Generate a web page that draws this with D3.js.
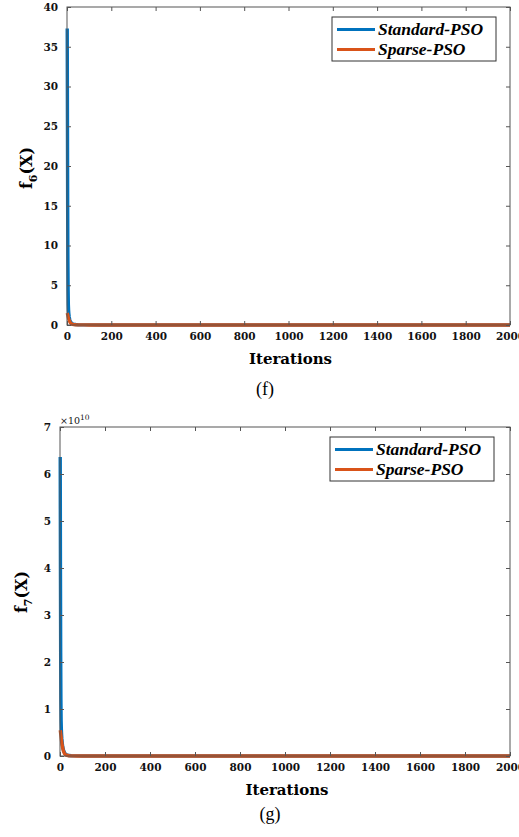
<!DOCTYPE html>
<html>
<head>
<meta charset="utf-8">
<script src="https://cdn.jsdelivr.net/npm/d3@7"></script>
<style>
  body { margin: 0; background: #fff; }
  svg { display: block; }
</style>
</head>
<body>
<div id="vis"></div>
<script>
// iterations at which the convergence curves are sampled
var iters = [1,2,3,4,5,6,7,8,10,12,15,20,25,30,40,50,75,100,150,200,300,500,750,1000,1500,2000];

// panel (f)
var f6Standard = [37.3,26,15,8,4.5,2.6,1.9,1.5,1.0,0.7,0.45,0.25,0.15,0.1,0.06,0.04,0.02,0.012,0.008,0.005,0.003,0.002,0.0015,0.001,0.001,0.001];
var f6Sparse   = [1.5,1.4,1.3,1.2,1.05,0.95,0.85,0.75,0.6,0.45,0.3,0.15,0.08,0.05,0.03,0.02,0.01,0.006,0.004,0.003,0.002,0.001,0.001,0.0005,0.0005,0.0005];

// panel (g), values in units of 1e10
var f7Standard = [6.36,4.0,2.2,1.2,0.75,0.56,0.46,0.38,0.28,0.2,0.13,0.07,0.04,0.025,0.01,0.005,0.002,0.001,0.001,0.001,0.001,0.001,0.001,0.001,0.001,0.001];
var f7Sparse   = [0.55,0.52,0.48,0.44,0.4,0.36,0.32,0.28,0.22,0.17,0.11,0.05,0.025,0.015,0.006,0.003,0.001,0.001,0.001,0.001,0.001,0.001,0.001,0.001,0.001,0.001];

var xTicks = [0,200,400,600,800,1000,1200,1400,1600,1800,2000];
var f6Ticks = [0,5,10,15,20,25,30,35,40];
var f7Ticks = [0,1,2,3,4,5,6,7];
var seriesNames = ["Standard-PSO", "Sparse-PSO"];
var colors = ["#0072bd", "#d95319"];

var W = 519, H = 837;
var svg = d3.select("#vis").append("svg").attr("width", W).attr("height", H);

var tickFont = "'DejaVu Serif', serif";
var fmt = d3.format("d");

function drawPanel(cfg) {
  var g = svg.append("g");
  var x = d3.scaleLinear().domain([0, 2000]).range([cfg.left, cfg.right]);
  var y = d3.scaleLinear().domain([0, cfg.yMax]).range([cfg.bottom, cfg.top]);

  var line = d3.line().x(function(d) { return x(d[0]); }).y(function(d) { return y(d[1]); });

  // curves, standard first so sparse sits on top
  [cfg.standard, cfg.sparse].forEach(function(vals, k) {
    g.append("path")
      .datum(iters.map(function(it, i) { return [it, vals[i]]; }))
      .attr("d", line)
      .attr("fill", "none")
      .attr("stroke", colors[k])
      .attr("stroke-width", 3.4)
      .attr("stroke-linejoin", "round");
  });

  var styleAxis = function(sel, labels) {
    sel.select(".domain").remove();
    sel.selectAll(".tick line").attr("stroke", "#555");
    sel.selectAll(".tick text")
      .attr("font-family", tickFont)
      .attr("font-weight", "bold")
      .attr("font-size", 10.5)
      .attr("fill", "#111");
    if (!labels) sel.selectAll(".tick text").remove();
  };

  g.append("g").attr("transform", "translate(0," + cfg.bottom + ")")
    .call(d3.axisBottom(x).tickValues(xTicks).tickFormat(fmt).tickSize(-4).tickPadding(8))
    .call(styleAxis, true);
  g.append("g").attr("transform", "translate(0," + cfg.top + ")")
    .call(d3.axisTop(x).tickValues(xTicks).tickSize(-4))
    .call(styleAxis, false);
  g.append("g").attr("transform", "translate(" + cfg.left + ",0)")
    .call(d3.axisLeft(y).tickValues(cfg.yTicks).tickFormat(fmt).tickSize(-4).tickPadding(9))
    .call(styleAxis, true);
  g.append("g").attr("transform", "translate(" + cfg.right + ",0)")
    .call(d3.axisRight(y).tickValues(cfg.yTicks).tickSize(-4))
    .call(styleAxis, false);

  // axes box
  g.append("rect")
    .attr("x", cfg.left).attr("y", cfg.top)
    .attr("width", cfg.right - cfg.left).attr("height", cfg.bottom - cfg.top)
    .attr("fill", "none").attr("stroke", "#555").attr("stroke-width", 1);

  // x label
  g.append("text")
    .attr("x", (cfg.left + cfg.right) / 2 + 2).attr("y", cfg.bottom + 39)
    .attr("text-anchor", "middle")
    .attr("font-family", tickFont).attr("font-weight", "bold").attr("font-size", 15)
    .text("Iterations");

  // y label
  var yl = g.append("text")
    .attr("transform", "translate(" + cfg.yLabelX + "," + cfg.yLabelY + ") rotate(-90)")
    .attr("text-anchor", "middle")
    .attr("font-family", tickFont).attr("font-weight", "bold").attr("font-size", 16);
  yl.append("tspan").text("f");
  yl.append("tspan").attr("dy", 5).attr("font-size", 11).text(cfg.sub);
  yl.append("tspan").attr("dy", -5).text("(X)");

  // exponent
  if (cfg.exponent) {
    var ex = g.append("text")
      .attr("x", cfg.left).attr("y", cfg.top - 3)
      .attr("font-family", tickFont).attr("font-size", 9.5).attr("fill", "#111");
    ex.append("tspan").text("×10");
    ex.append("tspan").attr("dy", -4).attr("font-size", 7.5).text(cfg.exponent);
  }

  // legend
  var lg = g.append("g");
  lg.append("rect")
    .attr("x", cfg.legX).attr("y", cfg.legY)
    .attr("width", 164).attr("height", 44)
    .attr("fill", "#fff").attr("stroke", "#333").attr("stroke-width", 1);
  seriesNames.forEach(function(name, k) {
    var cy = cfg.legY + 12.5 + k * 20;
    lg.append("line")
      .attr("x1", cfg.legX + 5).attr("x2", cfg.legX + 43)
      .attr("y1", cy).attr("y2", cy)
      .attr("stroke", colors[k]).attr("stroke-width", 3.2);
    lg.append("text")
      .attr("x", cfg.legX + 46).attr("y", cy + 5.5)
      .attr("font-family", "'Liberation Serif', serif")
      .attr("font-weight", "bold").attr("font-style", "italic")
      .attr("font-size", 17.5)
      .text(name);
  });

  // caption
  svg.append("text")
    .attr("x", cfg.capX).attr("y", cfg.capY)
    .attr("text-anchor", "middle")
    .attr("font-family", "'Liberation Serif', serif").attr("font-size", 18)
    .text(cfg.caption);
}

drawPanel({
  left: 67, right: 510, top: 7, bottom: 325,
  yMax: 40, yTicks: f6Ticks,
  standard: f6Standard, sparse: f6Sparse,
  sub: "6", yLabelX: 32, yLabelY: 168,
  legX: 332, legY: 17,
  caption: "(f)", capX: 265, capY: 395
});

drawPanel({
  left: 60, right: 510, top: 427, bottom: 756,
  yMax: 7, yTicks: f7Ticks,
  standard: f7Standard, sparse: f7Sparse,
  sub: "7", yLabelX: 27, yLabelY: 592,
  exponent: "10",
  legX: 330, legY: 437,
  caption: "(g)", capX: 270, capY: 820
});
</script>
</body>
</html>
